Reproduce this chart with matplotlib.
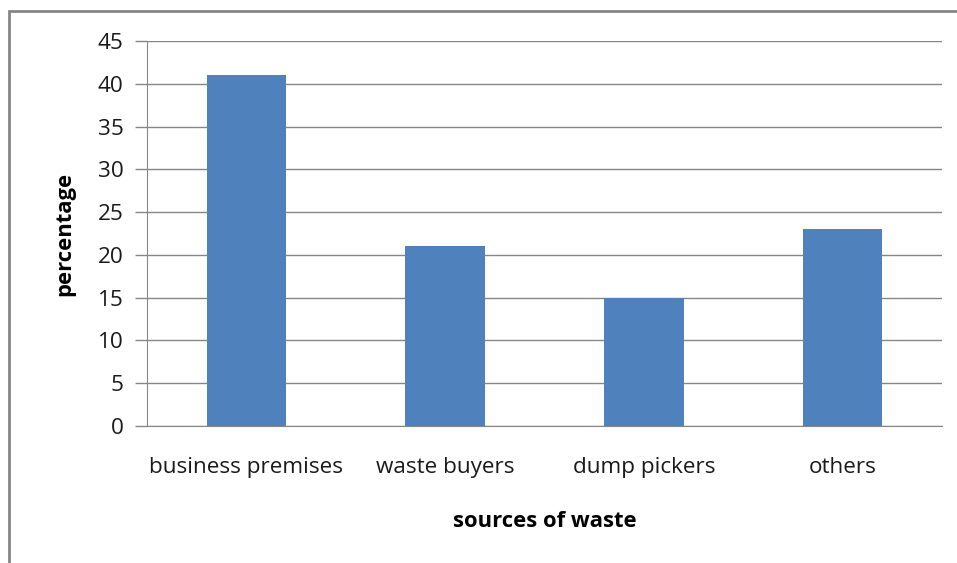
import matplotlib
matplotlib.use("Agg")
import matplotlib.pyplot as plt
from matplotlib.patches import Rectangle

categories = ["business premises", "waste buyers", "dump pickers", "others"]
values = [41, 21, 15, 23]
yticks = [0, 5, 10, 15, 20, 25, 30, 35, 40, 45]

plt.rcParams['font.family'] = ['Open Sans', 'DejaVu Sans']

W, H = 957, 563
fig = plt.figure(figsize=(W / 100, H / 100), dpi=100)
ax = fig.add_axes([147 / W, 1 - 426 / H, (942 - 147) / W, (426 - 41) / H])

x = list(range(len(categories)))
ax.bar(x, values, width=0.4, color="#4F81BD", zorder=3)
ax.set_xlim(-0.5, len(categories) - 0.5)
ax.set_ylim(0, 45)
ax.set_yticks(yticks)
ax.set_xticks(x)
ax.set_xticklabels(categories, fontsize=16.2, color="#1a1a1a")
ax.tick_params(axis="x", length=0, pad=22)
ax.tick_params(axis="y", length=9, width=1, color="#868686", labelsize=16.2, labelcolor="#1a1a1a", pad=8)
ax.yaxis.grid(True, color="#868686", linewidth=1, zorder=0)
for s in ["top", "right"]:
    ax.spines[s].set_visible(False)
ax.spines["left"].set_color("#868686")
ax.spines["bottom"].set_color("#868686")
ax.spines["left"].set_zorder(4)

ax.set_ylabel("percentage", fontsize=15.8, fontweight="bold", labelpad=16)
ax.set_xlabel("sources of waste", fontsize=15.8, fontweight="bold", labelpad=24)

fig.patches.append(Rectangle((9 / W, -0.1), 1.2, 1 - 11 / H + 0.1, transform=fig.transFigure,
                             fill=False, edgecolor="#868686", linewidth=2))

fig.savefig("out.png", dpi=100)
